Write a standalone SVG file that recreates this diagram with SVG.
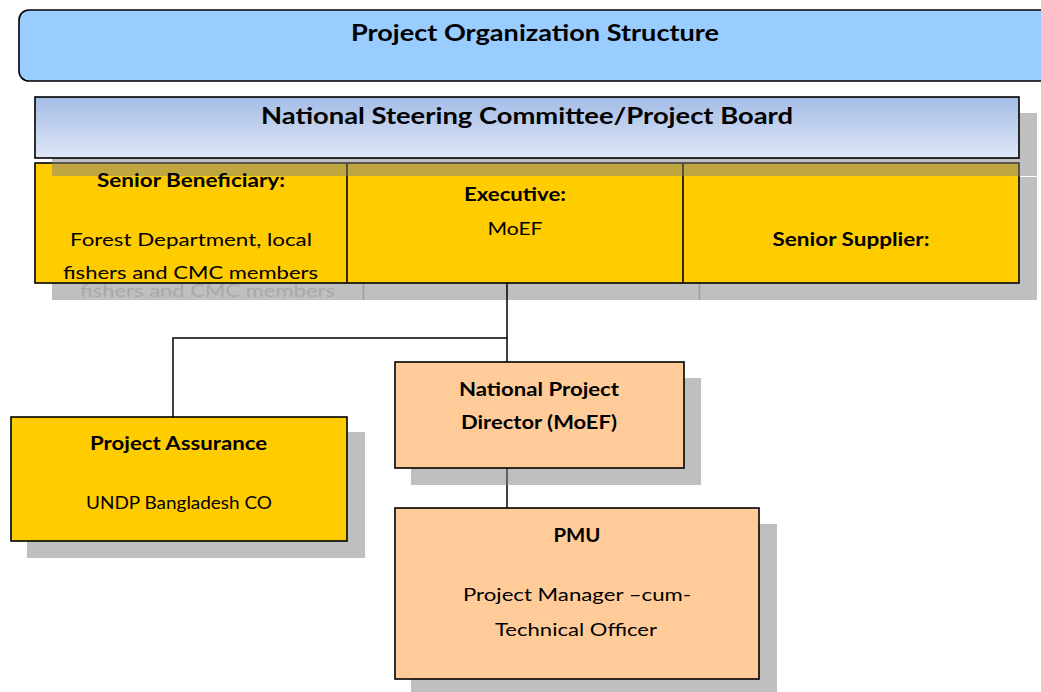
<svg xmlns="http://www.w3.org/2000/svg" width="1041" height="692" viewBox="0 0 1041 692">
  <defs>
    <linearGradient id="boardFill" x1="0" y1="0" x2="0" y2="1">
      <stop offset="0" stop-color="#A4BCE6"/>
      <stop offset="1" stop-color="#DFE7F6"/>
    </linearGradient>
    <style>
      text { font-family: Lato, "Liberation Sans", "DejaVu Sans", sans-serif; fill: #000; text-anchor: middle; }
      .h1 { font-size: 23px; font-weight: bold; }
      .h2 { font-size: 18px; font-weight: bold; }
      .t2 { font-size: 18px; }
      .ghost { fill: #A9A9A9; }
      .shadow { fill: #808080; fill-opacity: 0.5; }
      .box { stroke: #000; stroke-width: 1.6; }
      .yellow { fill: #FFCC00; }
      .peach { fill: #FFCC99; }
      .link { fill: none; stroke: #000; stroke-width: 1.5; }
    </style>
  </defs>

  <rect width="1041" height="692" fill="#FFFFFF"/>

  <!-- title banner -->
  <g id="title">
    <rect x="19" y="10" width="1040" height="71" rx="10" ry="10" fill="#99CCFF" class="box"/>
    <text class="h1" x="535" y="41" textLength="368" lengthAdjust="spacingAndGlyphs">Project Organization Structure</text>
  </g>

  <!-- board table: shadow, cells, header -->
  <g id="board">
    <!-- table shadow with its ghosted text and dividers -->
    <rect x="52" y="177" width="985" height="123" class="shadow"/>
    <text class="t2 ghost" x="207.5" y="296.5" textLength="255" lengthAdjust="spacingAndGlyphs">fishers and CMC members</text>
    <line x1="363.5" y1="283" x2="363.5" y2="300" stroke="#A0A0A0" stroke-width="1.5"/>
    <line x1="699.5" y1="283" x2="699.5" y2="300" stroke="#A0A0A0" stroke-width="1.5"/>

    <!-- cells -->
    <rect x="35" y="163" width="984" height="120" class="yellow box"/>
    <line x1="347" y1="163" x2="347" y2="283" stroke="#000" stroke-width="1.6"/>
    <line x1="683" y1="163" x2="683" y2="283" stroke="#000" stroke-width="1.6"/>

    <!-- header shadow falls across the top of the cells -->
    <rect x="52" y="113" width="985" height="63" class="shadow"/>

    <!-- header -->
    <g id="steering-committee">
      <rect x="35" y="97" width="984" height="61" fill="url(#boardFill)" class="box"/>
      <text class="h1" x="527" y="124" textLength="532" lengthAdjust="spacingAndGlyphs">National Steering Committee/Project Board</text>
    </g>

    <g id="senior-beneficiary">
      <text class="h2" x="191" y="187" textLength="188" lengthAdjust="spacingAndGlyphs">Senior Beneficiary:</text>
      <text class="t2" x="191" y="246" textLength="242" lengthAdjust="spacingAndGlyphs">Forest Department, local</text>
      <text class="t2" x="190.5" y="279" textLength="255" lengthAdjust="spacingAndGlyphs">fishers and CMC members</text>
    </g>
    <g id="executive">
      <text class="h2" x="515" y="201" textLength="102" lengthAdjust="spacingAndGlyphs">Executive:</text>
      <text class="t2" x="515" y="235" textLength="55" lengthAdjust="spacingAndGlyphs">MoEF</text>
    </g>
    <g id="senior-supplier">
      <text class="h2" x="851" y="246" textLength="157" lengthAdjust="spacingAndGlyphs">Senior Supplier:</text>
    </g>
  </g>

  <!-- connectors -->
  <g id="connectors">
    <line x1="507" y1="283" x2="507" y2="362" class="link"/>
    <polyline points="507,338 173,338 173,417" class="link" stroke-width="1.2"/>
    <line x1="507" y1="468" x2="507" y2="508" class="link"/>
  </g>

  <!-- Project Assurance -->
  <g id="project-assurance">
    <rect x="27" y="432" width="338" height="126" class="shadow"/>
    <rect x="11" y="417" width="336" height="124" class="yellow box"/>
    <text class="h2" x="178.5" y="450" textLength="177" lengthAdjust="spacingAndGlyphs">Project Assurance</text>
    <text class="t2" x="179" y="509" textLength="186" lengthAdjust="spacingAndGlyphs">UNDP Bangladesh CO</text>
  </g>

  <!-- National Project Director -->
  <g id="national-project-director">
    <rect x="411" y="378" width="290" height="107" class="shadow"/>
    <rect x="395" y="362" width="289" height="106" class="peach box"/>
    <text class="h2" x="539" y="395.5" textLength="160" lengthAdjust="spacingAndGlyphs">National Project</text>
    <text class="h2" x="539" y="429" textLength="156" lengthAdjust="spacingAndGlyphs">Director (MoEF)</text>
  </g>

  <!-- PMU -->
  <g id="pmu">
    <rect x="411" y="524" width="366" height="170" class="shadow"/>
    <rect x="395" y="508" width="364" height="171" class="peach box"/>
    <text class="h2" x="577" y="541.5" textLength="47" lengthAdjust="spacingAndGlyphs">PMU</text>
    <text class="t2" x="577" y="601" textLength="228" lengthAdjust="spacingAndGlyphs">Project Manager –cum-</text>
    <text class="t2" x="576" y="635.5" textLength="162" lengthAdjust="spacingAndGlyphs">Technical Officer</text>
  </g>
</svg>
